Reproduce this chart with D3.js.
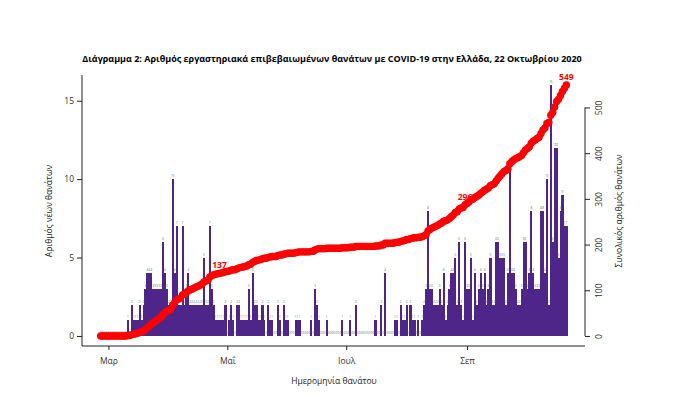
<!DOCTYPE html>
<html>
<head>
<meta charset="utf-8">
<script src="https://cdn.jsdelivr.net/npm/d3@7"></script>
<style>
  body { margin: 0; background: #fff; }
  text { font-family: "Open Sans", sans-serif; }
</style>
</head>
<body>
<div id="chart"></div>
<script>
// daily deaths by date of death, 26 Feb 2020 .. 22 Oct 2020
const startDate = "2020-02-26";
const endDate = "2020-10-22";
const deaths = [
  // Feb 26-29
  0,0,0,0,
  // Mar
  0,0,0,0,0,0,0,0,0,0, 1,0,2,1,1,1,2,1,2,3,4,4,4,3,3,3,3,3,6,4,3,
  // Apr
  2,2,10,4,7,2,2,7,2,3, 4,2,2,2,2,2,2,2,5,2, 2,7,3,2,1,1,1,1,1,2,
  // May
  0,1,2,1,0,2,2,1,1,1, 1,3,1,4,2,2,1,1,2,1, 0,2,1,1,0,0,2,1,0,2, 1,
  // Jun
  1,0,0,0,1,1,1,0,0,0, 0,0,1,0,3,2,1,0,0,0, 1,0,0,0,0,0,0,0,1,0,
  // Jul
  0,0,1,0,0,2,0,0,0,0, 0,0,0,0,0,1,0,0,2,0, 4,0,0,0,0,1,1,0,2,1, 1,
  // Aug
  2,0,2,1,1,0,1,0,1,2, 3,8,3,3,2,2,2,3,2,4, 1,2,3,4,4,5,2,6,2,1, 6,
  // Sep
  3,3,5,1,4,2,3,4,3,4, 2,3,5,2,2,6,6,5,5,5, 2,4,11,4,4,3,2,2,3,6,
  // Oct 1-22
  6,3,4,8,4,3,3,3,8,8, 4,10,2,16,6,12,12,5,8,9, 7,7
];

const monthTicks = ["2020-03-01", "2020-05-01", "2020-07-01", "2020-09-01"];
const monthLabels = ["Μαρ", "Μαΐ", "Ιουλ", "Σεπ"];
const leftTicks = [0, 5, 10, 15];
const rightTicks = [0, 100, 200, 300, 400, 500];
const noteDates = ["2020-04-27", "2020-08-31", "2020-10-22"];
const noteLabels = ["137", "296", "549"];

const titleText = "Διάγραμμα 2: Αριθμός εργαστηριακά επιβεβαιωμένων θανάτων με COVID-19 στην Ελλάδα, 22 Οκτωβρίου 2020";

const W = 680, H = 399;
const box = {left: 82, right: 585, top: 75, bottom: 346};

const parse = d3.utcParse("%Y-%m-%d");
const days = d3.utcDay.range(parse(startDate), d3.utcDay.offset(parse(endDate), 1));
const data = days.map((d, i) => ({date: d, n: deaths[i]}));
let run = 0;
data.forEach(d => { run += d.n; d.cum = run; });

// R style: 4% padding around the data range
const pad = (a, b) => [a - (b - a) * 0.04, b + (b - a) * 0.04];
const t0 = +days[0], t1 = +days[days.length - 1];
const x = d3.scaleUtc()
  .domain(pad(t0, t1).map(v => new Date(v)))
  .range([box.left, box.right]);
const y = d3.scaleLinear()
  .domain(pad(0, d3.max(deaths)))
  .range([box.bottom, box.top]);
const yR = d3.scaleLinear()
  .domain(pad(0, run))
  .range([box.bottom, box.top]);

const dayW = x(days[1]) - x(days[0]);

const svg = d3.select("#chart").append("svg")
  .attr("width", W)
  .attr("height", H);

// title
svg.append("text")
  .attr("x", 332).attr("y", 62)
  .attr("text-anchor", "middle")
  .attr("font-size", 9)
  .attr("font-weight", "bold")
  .attr("fill", "#000")
  .text(titleText);

// bars
svg.append("g").selectAll("rect")
  .data(data.filter(d => d.n > 0))
  .join("rect")
  .attr("x", d => x(d.date) - dayW / 2)
  .attr("width", dayW + 0.2)
  .attr("y", d => y(d.n))
  .attr("height", d => y(0) - y(d.n))
  .attr("shape-rendering", "crispEdges")
  .attr("fill", "#4e2689");

// small value labels above every bar
svg.append("g").selectAll("text")
  .data(data)
  .join("text")
  .attr("x", d => x(d.date))
  .attr("y", d => y(d.n) - 2)
  .attr("text-anchor", "middle")
  .attr("font-size", 3)
  .attr("fill", "#666")
  .text(d => d.n);

// L shaped frame
svg.append("path")
  .attr("d", `M${box.left},${box.top}V${box.bottom}H${box.right}`)
  .attr("fill", "none")
  .attr("stroke", "#222")
  .attr("stroke-width", 1);

// left axis
const gl = svg.append("g")
  .attr("transform", `translate(${box.left},0)`)
  .call(d3.axisLeft(y).tickValues(leftTicks).tickSize(5).tickPadding(3));
gl.select(".domain").remove();

// bottom axis
const gb = svg.append("g")
  .attr("transform", `translate(0,${box.bottom})`)
  .call(d3.axisBottom(x)
    .tickValues(monthTicks.map(parse))
    .tickFormat((d, i) => monthLabels[i])
    .tickSize(4).tickPadding(8));
gb.select(".domain").remove();

// right axis (cumulative)
const gr = svg.append("g")
  .attr("transform", `translate(${box.right},0)`)
  .call(d3.axisRight(yR).tickValues(rightTicks).tickSize(5));
gr.select(".domain")
  .attr("d", `M0,${yR(rightTicks[0])}V${yR(rightTicks[rightTicks.length - 1])}`);
gr.selectAll(".tick text")
  .attr("x", 0).attr("dy", null)
  .attr("text-anchor", "middle")
  .attr("transform", "translate(17,0) rotate(-90)");

[gl, gb, gr].forEach(g => {
  g.selectAll("text").attr("font-size", 8.5).attr("fill", "#333")
    .attr("font-family", "'Open Sans', sans-serif");
  g.selectAll("line, path").attr("stroke", "#222");
});

// axis titles
svg.append("text")
  .attr("transform", "translate(52,211) rotate(-90)")
  .attr("text-anchor", "middle")
  .attr("font-size", 8.5).attr("fill", "#222")
  .text("Αριθμός νέων θανάτων");
svg.append("text")
  .attr("transform", "translate(622,211) rotate(-90)")
  .attr("text-anchor", "middle")
  .attr("font-size", 8.5).attr("fill", "#222")
  .text("Συνολικός αριθμός θανάτων");
svg.append("text")
  .attr("x", 334).attr("y", 384)
  .attr("text-anchor", "middle")
  .attr("font-size", 8.5).attr("fill", "#222")
  .text("Ημερομηνία θανάτου");

// cumulative labels
const byDate = new Map(data.map(d => [+d.date, d]));
svg.append("g").selectAll("text")
  .data(noteDates.map((s, i) => ({d: byDate.get(+parse(s)), label: noteLabels[i]})))
  .join("text")
  .attr("x", n => x(n.d.date))
  .attr("y", n => yR(n.d.cum) - 5)
  .attr("text-anchor", "middle")
  .attr("font-size", 8.5)
  .attr("font-weight", "bold")
  .attr("fill", "#ff0000")
  .text(n => n.label);

// cumulative dots
svg.append("g").selectAll("circle")
  .data(data)
  .join("circle")
  .attr("cx", d => x(d.date))
  .attr("cy", d => yR(d.cum))
  .attr("r", 3.7)
  .attr("fill", "#ff0000");
</script>
</body>
</html>
